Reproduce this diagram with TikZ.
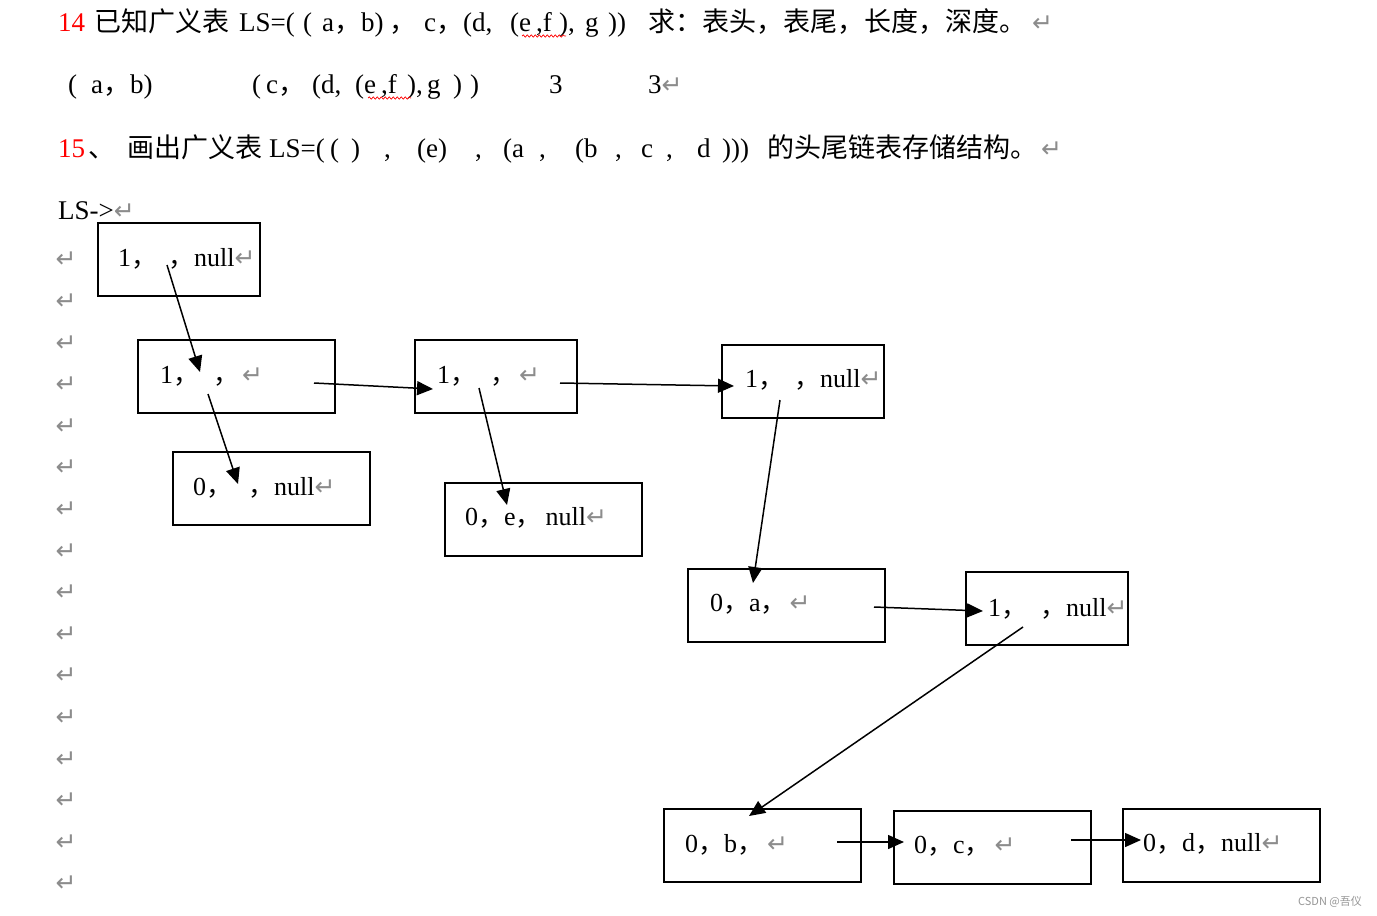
\documentclass[tikz,border=0pt]{standalone}
\usepackage{fontspec}
\setmainfont{Liberation Serif}
\newfontfamily\cjk{Noto Sans CJK SC}
\newfontfamily\symf{DejaVu Sans}
\usetikzlibrary{arrows.meta,decorations.pathmorphing}
\definecolor{numred}{RGB}{255,0,0}
\definecolor{retgray}{RGB}{140,140,140}
\definecolor{wmgray}{RGB}{150,150,150}
\newcommand{\ret}{{\symf\fontsize{25}{25}\selectfont\color{retgray}↵}}
\newcommand{\cm}{{\cjk ，}}

\begin{document}
\begin{tikzpicture}
[x=1pt,y=-1pt,
head/.style={anchor=base west,inner sep=0pt,font=\fontsize{27}{32}\selectfont},
cell/.style={rectangle,draw=black,line width=2pt,minimum width=162pt,minimum height=73pt,inner sep=0pt},
wide/.style={cell,minimum width=197pt},
entry/.style={anchor=base west,inner sep=0pt,font=\fontsize{26}{30}\selectfont},
ptr/.style={line width=1.5pt,-{Triangle[length=16pt,width=14pt]}},
wavy/.style={numred,line width=0.7pt,decorate,decoration={snake,amplitude=1.2pt,segment length=4pt}}]
\fill[white] (0,0) rectangle (1377,916);

% question 14
\node[head,text=numred] (n14) at (58,31) {14};
\node[head] (q1a) at (94,31) {\cjk 已知广义表};
\node[head] (q1b) at (239,31) {LS=(};
\node[head] (q1c) at (303,31) {(};
\node[head] (q1d) at (322,31) {a\cm b)};
\node[head] (q1e) at (389,31) {\cm};
\node[head] (q1f) at (424,31) {c\cm};
\node[head] (q1g) at (463,31) {(d,};
\node[head] (q1h) at (510,31) {(e};
\node[head] (q1i) at (536,31) {,f};
\node[head] (q1j) at (559,31) {),};
\node[head] (q1k) at (585,31) {g};
\node[head] (q1l) at (608,31) {))};
\node[head] (q1m) at (648,31) {\cjk 求：表头，表尾，长度，深度。\hspace{6pt}\ret};
\draw[wavy] (522,36) -- (566,36);

% answer row
\node[head] (a1) at (68,93) {(};
\node[head] (a2) at (91,93) {a\cm b)};
\node[head] (a3) at (252,93) {(};
\node[head] (a4) at (266,93) {c\cm};
\node[head] (a5) at (312,93) {(d,};
\node[head] (a6) at (355,93) {(e};
\node[head] (a7) at (381,93) {,f};
\node[head] (a8) at (407,93) {),};
\node[head] (a9) at (427,93) {g};
\node[head] (a10) at (453,93) {)};
\node[head] (a11) at (470,93) {)};
\node[head] (a12) at (549,93) {3};
\node[head] (a13) at (648,93) {3\ret};
\draw[wavy] (368,98) -- (411,98);

% question 15
\node[head,text=numred] (n15) at (58,157) {15};
\node[head] (q2a) at (88,157) {\cjk 、};
\node[head] (q2b) at (127,157) {\cjk 画出广义表};
\node[head] (q2c) at (269,157) {LS=(};
\node[head] (q2d) at (330,157) {(};
\node[head] (q2e) at (351,157) {)};
\node[head] (q2f) at (384,157) {,};
\node[head] (q2g) at (417,157) {(e)};
\node[head] (q2h) at (475,157) {,};
\node[head] (q2i) at (503,157) {(a};
\node[head] (q2j) at (539,157) {,};
\node[head] (q2k) at (575,157) {(b};
\node[head] (q2l) at (615,157) {,};
\node[head] (q2m) at (641,157) {c};
\node[head] (q2n) at (666,157) {,};
\node[head] (q2o) at (697,157) {d};
\node[head] (q2p) at (722,157) {)))};
\node[head] (q2q) at (767,157) {\cjk 的头尾链表存储结构。\hspace{4pt}\ret};

\node[head] (ls) at (58,219) {LS->\ret};
\foreach \i in {0,...,15}
  \node[inner sep=0pt] (r\i) at (66,{260+41.6*\i}) {\ret};

% list nodes
\node[cell] (c1) at (179,259.5) {};
\node[entry] (e1) at (118,266) {1\cm\hspace{11pt}\cm null\ret};
\node[wide] (c2) at (236,376.5) {};
\node[entry] (e2) at (160,383) {1\cm\hspace{14pt}\cm\hspace{3pt}\ret};
\node[cell] (c3) at (495.5,376.5) {};
\node[entry] (e3) at (437,383) {1\cm\hspace{14pt}\cm\hspace{3pt}\ret};
\node[cell] (c4) at (803,381) {};
\node[entry] (e4) at (745,387) {1\cm\hspace{10pt}\cm null\ret};
\node[wide] (c5) at (271.5,488.5) {};
\node[entry] (e5) at (193,495) {0\cm\hspace{16pt}\cm null\ret};
\node[wide] (c6) at (543.5,519) {};
\node[entry] (e6) at (465,525) {0\cm e\cm\hspace{4pt}null\ret};
\node[wide] (c7) at (786.5,605) {};
\node[entry] (e7) at (710,611) {0\cm a\cm\hspace{3pt}\ret};
\node[cell] (c8) at (1046.5,608) {};
\node[entry] (e8) at (988,616) {1\cm\hspace{13pt}\cm null\ret};
\node[wide] (c9) at (762.5,845.5) {};
\node[entry] (e9) at (685,852) {0\cm b\cm\hspace{4pt}\ret};
\node[wide] (c10) at (992.5,847) {};
\node[entry] (e10) at (914,853) {0\cm c\cm\hspace{4pt}\ret};
\node[wide] (c11) at (1221,845) {};
\node[entry] (e11) at (1143,851) {0\cm d\cm null\ret};

% pointer ends
\coordinate (s1) at (167,265);  \coordinate (t1) at (200,372);
\coordinate (s2) at (208,394);  \coordinate (t2) at (238,484);
\coordinate (s3) at (314,383);  \coordinate (t3) at (433,389);
\coordinate (s4) at (479,388);  \coordinate (t4) at (507,505);
\coordinate (s5) at (560,383);  \coordinate (t5) at (734,386);
\coordinate (s6) at (780,400);  \coordinate (t6) at (753,583);
\coordinate (s7) at (874,607);  \coordinate (t7) at (983,611);
\coordinate (s8) at (1023,627); \coordinate (t8) at (749,816);
\coordinate (s9) at (837,842);  \coordinate (t9) at (904,842);
\coordinate (s10) at (1071,840); \coordinate (t10) at (1141,840);

\draw[ptr] (s1) -- (t1);
\draw[ptr] (s2) -- (t2);
\draw[ptr] (s3) -- (t3);
\draw[ptr] (s4) -- (t4);
\draw[ptr] (s5) -- (t5);
\draw[ptr] (s6) -- (t6);
\draw[ptr] (s7) -- (t7);
\draw[ptr] (s8) -- (t8);
\draw[ptr] (s9) -- (t9);
\draw[ptr] (s10) -- (t10);

\node[anchor=base east,inner sep=0pt,text=wmgray,font=\cjk\fontsize{11}{13}\selectfont] (wm) at (1362,905) {CSDN @吾仪};
\end{tikzpicture}
\end{document}
